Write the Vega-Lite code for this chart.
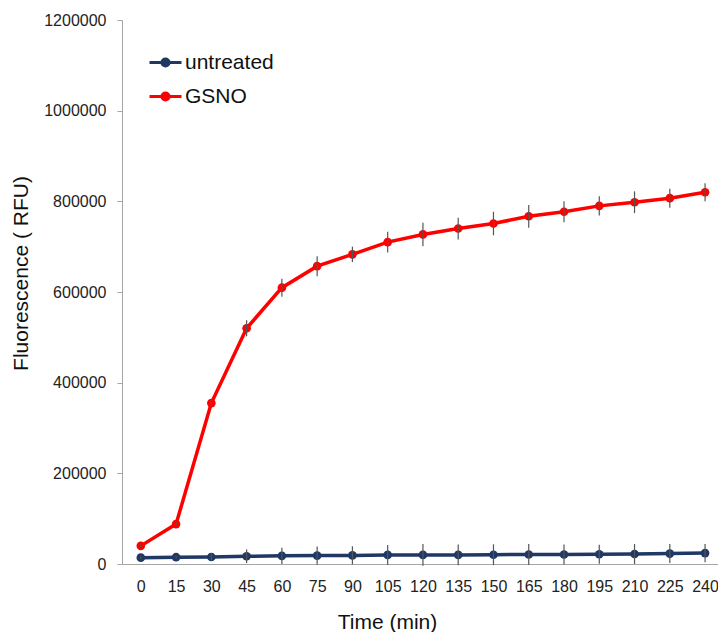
{
  "$schema": "https://vega.github.io/schema/vega-lite/v6.json",
  "width": 596,
  "height": 544,
  "autosize": "none",
  "padding": {"left": 122, "top": 20, "right": 0, "bottom": 68},
  "background": "white",
  "config": {
    "view": {"stroke": null},
    "font": "Liberation Sans"
  },
  "data": {
    "values": [
      {"time": 0, "series": "untreated", "value": 14000, "err": 3000},
      {"time": 15, "series": "untreated", "value": 15000, "err": 3000},
      {"time": 30, "series": "untreated", "value": 15500, "err": 8000},
      {"time": 45, "series": "untreated", "value": 17000, "err": 15000},
      {"time": 60, "series": "untreated", "value": 18000, "err": 18000},
      {"time": 75, "series": "untreated", "value": 18500, "err": 20000},
      {"time": 90, "series": "untreated", "value": 19000, "err": 20000},
      {"time": 105, "series": "untreated", "value": 20000, "err": 22000},
      {"time": 120, "series": "untreated", "value": 20000, "err": 24000},
      {"time": 135, "series": "untreated", "value": 20000, "err": 23000},
      {"time": 150, "series": "untreated", "value": 20500, "err": 23000},
      {"time": 165, "series": "untreated", "value": 21000, "err": 23000},
      {"time": 180, "series": "untreated", "value": 21000, "err": 22000},
      {"time": 195, "series": "untreated", "value": 21500, "err": 21000},
      {"time": 210, "series": "untreated", "value": 22000, "err": 22000},
      {"time": 225, "series": "untreated", "value": 23000, "err": 21000},
      {"time": 240, "series": "untreated", "value": 24000, "err": 20000},
      {"time": 0, "series": "GSNO", "value": 40000, "err": 3000},
      {"time": 15, "series": "GSNO", "value": 88000, "err": 4000},
      {"time": 30, "series": "GSNO", "value": 355000, "err": 8000},
      {"time": 45, "series": "GSNO", "value": 520000, "err": 17500},
      {"time": 60, "series": "GSNO", "value": 609500, "err": 20000},
      {"time": 75, "series": "GSNO", "value": 657000, "err": 22000},
      {"time": 90, "series": "GSNO", "value": 683000, "err": 17000},
      {"time": 105, "series": "GSNO", "value": 710000, "err": 23000},
      {"time": 120, "series": "GSNO", "value": 727000, "err": 26000},
      {"time": 135, "series": "GSNO", "value": 740000, "err": 24000},
      {"time": 150, "series": "GSNO", "value": 751000, "err": 26000},
      {"time": 165, "series": "GSNO", "value": 767000, "err": 25000},
      {"time": 180, "series": "GSNO", "value": 777000, "err": 23000},
      {"time": 195, "series": "GSNO", "value": 790000, "err": 21000},
      {"time": 210, "series": "GSNO", "value": 798000, "err": 24000},
      {"time": 225, "series": "GSNO", "value": 807000, "err": 21000},
      {"time": 240, "series": "GSNO", "value": 820000, "err": 20000}
    ]
  },
  "transform": [
    {"calculate": "datum.value - datum.err", "as": "lo"},
    {"calculate": "datum.value + datum.err", "as": "hi"}
  ],
  "encoding": {
    "x": {
      "field": "time",
      "type": "quantitative",
      "scale": {"domain": [-8, 245.5], "nice": false, "zero": false},
      "axis": {
        "values": [0, 15, 30, 45, 60, 75, 90, 105, 120, 135, 150, 165, 180, 195, 210, 225, 240],
        "grid": false,
        "ticks": false,
        "tickSize": 0,
        "domainColor": "#A6A6A6",
        "domainWidth": 1,
        "labelFontSize": 16,
        "labelColor": "#222222",
        "labelPadding": 14,
        "title": "Time (min)",
        "titleFontSize": 21,
        "titleFontWeight": "normal",
        "titleColor": "#111111",
        "titleX": 265,
        "titleY": 64,
        "titleBaseline": "alphabetic",
        "titleAlign": "center"
      }
    },
    "y": {
      "field": "value",
      "type": "quantitative",
      "scale": {"domain": [0, 1200000], "nice": false},
      "axis": {
        "values": [0, 200000, 400000, 600000, 800000, 1000000, 1200000],
        "format": "d",
        "grid": false,
        "tickSize": 5,
        "tickColor": "#A6A6A6",
        "domainColor": "#A6A6A6",
        "domainWidth": 1,
        "labelFontSize": 16,
        "labelColor": "#222222",
        "labelPadding": 11,
        "title": "Fluorescence ( RFU)",
        "titleFontSize": 21,
        "titleFontWeight": "normal",
        "titleColor": "#111111",
        "titleAngle": -90,
        "titleX": -95,
        "titleY": 253,
        "titleBaseline": "alphabetic",
        "titleAlign": "center"
      }
    }
  },
  "layer": [
    {
      "mark": {"type": "line", "strokeWidth": 3.5},
      "encoding": {
        "color": {
          "field": "series",
          "type": "nominal",
          "scale": {"domain": ["untreated", "GSNO"], "range": ["#1F3864", "#FF0000"]},
          "legend": {
            "title": null,
            "orient": "none",
            "legendX": 26,
            "legendY": 25,
            "symbolType": "M-1,0L1,0M-0.22,0A0.22,0.22 0 1,0 0.22,0A0.22,0.22 0 1,0 -0.22,0Z",
            "symbolSize": 1024,
            "symbolStrokeWidth": 3,
            "labelFontSize": 21,
            "labelColor": "#111111",
            "labelOffset": 2,
            "rowPadding": 6,
            "padding": 0,
            "encode": {
              "symbols": {
                "update": {
                  "fill": {"scale": "color", "field": "value"},
                  "stroke": {"scale": "color", "field": "value"},
                  "fillOpacity": {"value": 1},
                  "strokeWidth": {"value": 3}
                }
              }
            }
          }
        }
      }
    },
    {
      "mark": {"type": "point", "filled": true, "size": 75, "opacity": 1},
      "encoding": {
        "color": {"field": "series", "type": "nominal"}
      }
    },
    {
      "mark": {"type": "rule", "color": "#555555", "strokeWidth": 1.2},
      "encoding": {
        "y": {"field": "lo", "type": "quantitative"},
        "y2": {"field": "hi"}
      }
    }
  ]
}
